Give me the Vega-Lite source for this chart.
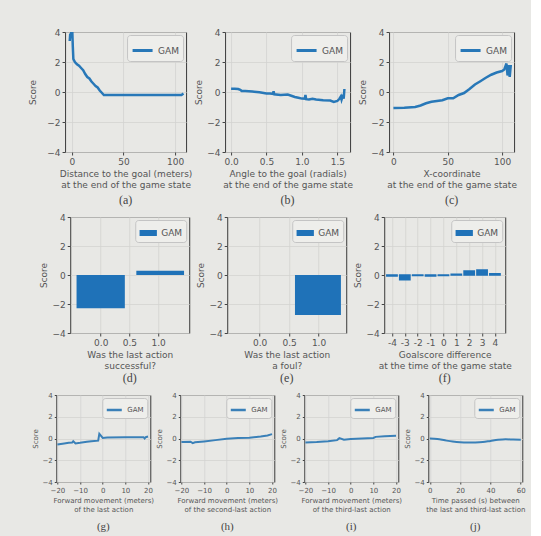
{
"$schema": "https://vega.github.io/schema/vega-lite/v6.json",
"padding": {"left": 15, "top": 27, "right": 5, "bottom": 5},
"background": "#e8e8e5",
"center": true,
"spacing": 5,
"resolve": {"scale": {"color": "independent"}, "legend": {"color": "independent"}},
"config": {
 "font": "DejaVu Sans",
 "view": {"stroke": "#3a3a3a", "strokeWidth": 1},
 "axis": {"grid": true, "gridColor": "#d3d3d0", "gridWidth": 0.8, "domain": false, "tickColor": "#444", "tickSize": 3, "labelColor": "#555", "titleColor": "#555", "labelFontSize": 9, "titleFontSize": 9, "titleFontWeight": "normal", "labelPadding": 2, "titlePadding": 3, "titleLineHeight": 11},
 "legend": {"title": null, "orient": "top-right", "offset": 3, "labelFontSize": 9, "labelColor": "#555", "fillColor": "#eeeeeb", "strokeColor": "#c4c4c4", "cornerRadius": 3, "padding": 4},
 "title": {"font": "Liberation Serif", "fontSize": 12, "fontWeight": "normal", "color": "#444", "orient": "bottom", "offset": 6}
},
"vconcat": [
 {
  "hconcat": [
   {
    "width": 121, "height": 120,
    "title": "(a)",
    "data": {"values": [
     {"x": -2, "y": 3.4}, {"x": -1.5, "y": 3.9}, {"x": -1, "y": 3.6}, {"x": -0.5, "y": 4.0}, {"x": 0, "y": 3.8}, {"x": 0.5, "y": 4.0}, {"x": 1, "y": 3.0}, {"x": 1.5, "y": 2.2}, {"x": 3, "y": 2.0}, {"x": 5, "y": 1.85}, {"x": 7, "y": 1.75}, {"x": 9, "y": 1.6}, {"x": 11, "y": 1.45}, {"x": 13, "y": 1.2}, {"x": 15, "y": 1.0}, {"x": 17, "y": 0.9}, {"x": 19, "y": 0.7}, {"x": 21, "y": 0.55}, {"x": 23, "y": 0.4}, {"x": 25, "y": 0.3}, {"x": 27, "y": 0.1}, {"x": 29, "y": -0.05}, {"x": 31, "y": -0.2}, {"x": 40, "y": -0.2}, {"x": 60, "y": -0.2}, {"x": 80, "y": -0.2}, {"x": 100, "y": -0.2}, {"x": 106, "y": -0.2}, {"x": 108, "y": -0.1}
    ]},
    "mark": {"type": "line", "clip": true, "strokeWidth": 2.5},
    "encoding": {
     "x": {"field": "x", "type": "quantitative", "scale": {"domain": [-6.5, 110.5], "nice": false, "zero": false}, "axis": {"values": [0, 50, 100], "title": ["Distance to the goal (meters)", "at the end of the game state"]}},
     "y": {"field": "y", "type": "quantitative", "scale": {"domain": [-4, 4], "nice": false}, "axis": {"values": [-4, -2, 0, 2, 4], "title": ["", "Score"], "titleLineHeight": 13, "titlePadding": 9}},
     "color": {"datum": "GAM", "type": "nominal", "scale": {"range": ["#2878b8"]}, "legend": {"symbolType": "stroke", "symbolSize": 400, "symbolStrokeWidth": 3}}
    }
   },
   {
    "width": 125, "height": 120,
    "title": "(b)",
    "data": {"values": [
     {"x": 0, "y": 0.22}, {"x": 0.05, "y": 0.22}, {"x": 0.1, "y": 0.2}, {"x": 0.13, "y": 0.15}, {"x": 0.15, "y": 0.07}, {"x": 0.2, "y": 0.06}, {"x": 0.3, "y": 0.03}, {"x": 0.4, "y": -0.02}, {"x": 0.5, "y": -0.1}, {"x": 0.55, "y": -0.1}, {"x": 0.59, "y": -0.12}, {"x": 0.6, "y": 0.05}, {"x": 0.61, "y": -0.15}, {"x": 0.7, "y": -0.2}, {"x": 0.8, "y": -0.17}, {"x": 0.85, "y": -0.25}, {"x": 0.9, "y": -0.33}, {"x": 0.95, "y": -0.38}, {"x": 1.0, "y": -0.44}, {"x": 1.04, "y": -0.45}, {"x": 1.05, "y": -0.2}, {"x": 1.06, "y": -0.48}, {"x": 1.1, "y": -0.5}, {"x": 1.15, "y": -0.45}, {"x": 1.2, "y": -0.5}, {"x": 1.3, "y": -0.55}, {"x": 1.4, "y": -0.57}, {"x": 1.45, "y": -0.66}, {"x": 1.5, "y": -0.6}, {"x": 1.53, "y": -0.45}, {"x": 1.55, "y": -0.3}, {"x": 1.56, "y": -0.5}, {"x": 1.58, "y": -0.2}, {"x": 1.59, "y": -0.45}, {"x": 1.6, "y": 0.2}
    ]},
    "mark": {"type": "line", "clip": true, "strokeWidth": 2.5},
    "encoding": {
     "x": {"field": "x", "type": "quantitative", "scale": {"domain": [-0.085, 1.68], "nice": false, "zero": false}, "axis": {"values": [0, 0.5, 1, 1.5], "format": ".1f", "title": ["Angle to the goal (radials)", "at the end of the game state"]}},
     "y": {"field": "y", "type": "quantitative", "scale": {"domain": [-4, 4], "nice": false}, "axis": {"values": [-4, -2, 0, 2, 4], "title": "Score"}},
     "color": {"datum": "GAM", "type": "nominal", "scale": {"range": ["#2878b8"]}, "legend": {"symbolType": "stroke", "symbolSize": 400, "symbolStrokeWidth": 3}}
    }
   },
   {
    "width": 125, "height": 120,
    "title": "(c)",
    "data": {"values": [
     {"x": 0, "y": -1.07}, {"x": 10, "y": -1.05}, {"x": 20, "y": -1.0}, {"x": 25, "y": -0.9}, {"x": 30, "y": -0.75}, {"x": 35, "y": -0.65}, {"x": 40, "y": -0.6}, {"x": 45, "y": -0.55}, {"x": 50, "y": -0.42}, {"x": 55, "y": -0.42}, {"x": 60, "y": -0.2}, {"x": 65, "y": -0.07}, {"x": 70, "y": 0.2}, {"x": 75, "y": 0.5}, {"x": 80, "y": 0.72}, {"x": 85, "y": 0.95}, {"x": 90, "y": 1.15}, {"x": 95, "y": 1.3}, {"x": 100, "y": 1.4}, {"x": 102, "y": 1.5}, {"x": 104, "y": 1.9}, {"x": 105, "y": 1.1}, {"x": 106, "y": 1.8}, {"x": 107, "y": 1.0}, {"x": 108, "y": 1.8}
    ]},
    "mark": {"type": "line", "clip": true, "strokeWidth": 2.5},
    "encoding": {
     "x": {"field": "x", "type": "quantitative", "scale": {"domain": [-4, 111], "nice": false, "zero": false}, "axis": {"values": [0, 50, 100], "title": ["X-coordinate", "at the end of the game state"]}},
     "y": {"field": "y", "type": "quantitative", "scale": {"domain": [-4, 4], "nice": false}, "axis": {"values": [-4, -2, 0, 2, 4], "title": "Score"}},
     "color": {"datum": "GAM", "type": "nominal", "scale": {"range": ["#2878b8"]}, "legend": {"symbolType": "stroke", "symbolSize": 400, "symbolStrokeWidth": 3}}
    }
   }
  ],
  "spacing": 39,
  "bounds": "flush",
  "resolve": {"scale": {"color": "independent"}, "legend": {"color": "independent"}}
 },
 {
  "hconcat": [
   {
    "width": 119, "height": 116,
    "title": {"text": "(d)", "offset": 3},
    "data": {"values": [
     {"x0": -0.42, "x1": 0.42, "y": -2.3},
     {"x0": 0.62, "x1": 1.45, "y": 0.3}
    ]},
    "mark": {"type": "bar", "clip": true},
    "encoding": {
     "x": {"field": "x0", "type": "quantitative", "scale": {"domain": [-0.53, 1.54], "nice": false, "zero": false}, "axis": {"values": [0, 0.5, 1], "format": ".1f", "title": ["Was the last action", "successful?"]}},
     "x2": {"field": "x1"},
     "y": {"field": "y", "type": "quantitative", "scale": {"domain": [-4, 4], "nice": false}, "axis": {"values": [-4, -2, 0, 2, 4], "title": ["", "Score"], "titleLineHeight": 20}},
     "y2": {"datum": 0},
     "color": {"datum": "GAM", "type": "nominal", "scale": {"range": ["#1f72b8"]}, "legend": {"symbolType": "M-1,-0.35H1V0.35H-1Z", "symbolSize": 300, "symbolStrokeWidth": 0}}
    }
   },
   {
    "width": 119, "height": 116,
    "title": {"text": "(e)", "offset": 3},
    "data": {"values": [
     {"x0": 0.6, "x1": 1.38, "y": -2.75}
    ]},
    "mark": {"type": "bar", "clip": true},
    "encoding": {
     "x": {"field": "x0", "type": "quantitative", "scale": {"domain": [-0.55, 1.47], "nice": false, "zero": false}, "axis": {"values": [0, 0.5, 1], "format": ".1f", "title": ["Was the last action", "a foul?"]}},
     "x2": {"field": "x1"},
     "y": {"field": "y", "type": "quantitative", "scale": {"domain": [-4, 4], "nice": false}, "axis": {"values": [-4, -2, 0, 2, 4], "title": "Score"}},
     "y2": {"datum": 0},
     "color": {"datum": "GAM", "type": "nominal", "scale": {"range": ["#1f72b8"]}, "legend": {"symbolType": "M-1,-0.35H1V0.35H-1Z", "symbolSize": 300, "symbolStrokeWidth": 0}}
    }
   },
   {
    "width": 121, "height": 116,
    "title": {"text": "(f)", "offset": 3},
    "data": {"values": [
     {"x0": -4.4, "x1": -3.6, "y": -0.07},
     {"x0": -3.4, "x1": -2.6, "y": -0.32},
     {"x0": -2.4, "x1": -1.6, "y": -0.03},
     {"x0": -1.4, "x1": -0.6, "y": -0.07},
     {"x0": -0.4, "x1": 0.4, "y": -0.03},
     {"x0": 0.6, "x1": 1.4, "y": 0.06},
     {"x0": 1.6, "x1": 2.4, "y": 0.28},
     {"x0": 2.6, "x1": 3.4, "y": 0.35},
     {"x0": 3.6, "x1": 4.4, "y": 0.08}
    ]},
    "mark": {"type": "bar", "clip": true, "strokeWidth": 1.5},
    "encoding": {
     "x": {"field": "x0", "type": "quantitative", "scale": {"domain": [-4.6, 4.8], "nice": false, "zero": false}, "axis": {"values": [-4, -3, -2, -1, 0, 1, 2, 3, 4], "labelExpr": "replace(datum.label, '−', '-')", "title": ["Goalscore difference", "at the time of the game state"]}},
     "x2": {"field": "x1"},
     "y": {"field": "y", "type": "quantitative", "scale": {"domain": [-4, 4], "nice": false}, "axis": {"values": [-4, -2, 0, 2, 4], "title": "Score"}},
     "y2": {"datum": 0},
     "color": {"datum": "GAM", "type": "nominal", "scale": {"range": ["#1f72b8"]}, "legend": {"symbolType": "M-1,-0.35H1V0.35H-1Z", "symbolSize": 300, "symbolStrokeWidth": 0}},
     "stroke": {"value": "#1f72b8"}
    }
   }
  ],
  "spacing": 38,
  "bounds": "flush",
  "resolve": {"scale": {"color": "independent"}, "legend": {"color": "independent"}}
 },
 {
  "hconcat": [
   {
    "width": 94, "height": 87,
    "title": {"text": "(g)", "fontSize": 11, "offset": 9},
    "data": {"values": [
     {"x": -20, "y": -0.55}, {"x": -17, "y": -0.45}, {"x": -15, "y": -0.4}, {"x": -13.5, "y": -0.38}, {"x": -13, "y": -0.25}, {"x": -12, "y": -0.45}, {"x": -10, "y": -0.4}, {"x": -7, "y": -0.3}, {"x": -5, "y": -0.25}, {"x": -2, "y": -0.2}, {"x": -1.5, "y": 0.43}, {"x": -1, "y": 0.3}, {"x": 0, "y": 0.05}, {"x": 2, "y": 0.1}, {"x": 10, "y": 0.12}, {"x": 18, "y": 0.12}, {"x": 18.5, "y": 0.0}, {"x": 19, "y": 0.12}, {"x": 20, "y": 0.18}
    ]},
    "mark": {"type": "line", "clip": true, "strokeWidth": 2},
    "encoding": {
     "x": {"field": "x", "type": "quantitative", "scale": {"domain": [-20.5, 21], "nice": false, "zero": false}, "axis": {"values": [-20, -10, 0, 10, 20], "labelFontSize": 7, "titleFontSize": 7, "titleLineHeight": 9, "tickSize": 2, "title": ["Forward movement (meters)", "of the last action"]}},
     "y": {"field": "y", "type": "quantitative", "scale": {"domain": [-4, 4], "nice": false}, "axis": {"values": [-4, -2, 0, 2, 4], "labelFontSize": 7, "titleFontSize": 7, "tickSize": 2, "title": "Score"}},
     "color": {"datum": "GAM", "type": "nominal", "scale": {"range": ["#3a80b8"]}, "legend": {"symbolType": "stroke", "symbolSize": 225, "symbolStrokeWidth": 2.5, "labelFontSize": 7, "padding": 3, "offset": 3}}
    }
   },
   {
    "width": 94, "height": 87,
    "title": {"text": "(h)", "fontSize": 11, "offset": 9},
    "data": {"values": [
     {"x": -20, "y": -0.33}, {"x": -16, "y": -0.3}, {"x": -15, "y": -0.43}, {"x": -14, "y": -0.35}, {"x": -10, "y": -0.27}, {"x": -5, "y": -0.15}, {"x": 0, "y": -0.03}, {"x": 5, "y": 0.05}, {"x": 10, "y": 0.08}, {"x": 15, "y": 0.18}, {"x": 18, "y": 0.28}, {"x": 20, "y": 0.4}
    ]},
    "mark": {"type": "line", "clip": true, "strokeWidth": 2},
    "encoding": {
     "x": {"field": "x", "type": "quantitative", "scale": {"domain": [-20.5, 21], "nice": false, "zero": false}, "axis": {"values": [-20, -10, 0, 10, 20], "labelFontSize": 7, "titleFontSize": 7, "titleLineHeight": 9, "tickSize": 2, "title": ["Forward movement (meters)", "of the second-last action"]}},
     "y": {"field": "y", "type": "quantitative", "scale": {"domain": [-4, 4], "nice": false}, "axis": {"values": [-4, -2, 0, 2, 4], "labelFontSize": 7, "titleFontSize": 7, "tickSize": 2, "title": "Score"}},
     "color": {"datum": "GAM", "type": "nominal", "scale": {"range": ["#3a80b8"]}, "legend": {"symbolType": "stroke", "symbolSize": 225, "symbolStrokeWidth": 2.5, "labelFontSize": 7, "padding": 3, "offset": 3}}
    }
   },
   {
    "width": 94, "height": 87,
    "title": {"text": "(i)", "fontSize": 11, "offset": 9},
    "data": {"values": [
     {"x": -20, "y": -0.37}, {"x": -15, "y": -0.33}, {"x": -10, "y": -0.25}, {"x": -6, "y": -0.15}, {"x": -5, "y": 0.03}, {"x": -3, "y": -0.12}, {"x": 0, "y": -0.05}, {"x": 5, "y": 0.0}, {"x": 10, "y": 0.05}, {"x": 11, "y": 0.15}, {"x": 15, "y": 0.2}, {"x": 20, "y": 0.25}
    ]},
    "mark": {"type": "line", "clip": true, "strokeWidth": 2},
    "encoding": {
     "x": {"field": "x", "type": "quantitative", "scale": {"domain": [-20.5, 21], "nice": false, "zero": false}, "axis": {"values": [-20, -10, 0, 10, 20], "labelFontSize": 7, "titleFontSize": 7, "titleLineHeight": 9, "tickSize": 2, "title": ["Forward movement (meters)", "of the third-last action"]}},
     "y": {"field": "y", "type": "quantitative", "scale": {"domain": [-4, 4], "nice": false}, "axis": {"values": [-4, -2, 0, 2, 4], "labelFontSize": 7, "titleFontSize": 7, "tickSize": 2, "title": "Score"}},
     "color": {"datum": "GAM", "type": "nominal", "scale": {"range": ["#3a80b8"]}, "legend": {"symbolType": "stroke", "symbolSize": 225, "symbolStrokeWidth": 2.5, "labelFontSize": 7, "padding": 3, "offset": 3}}
    }
   },
   {
    "width": 94, "height": 87,
    "title": {"text": "(j)", "fontSize": 11, "offset": 9},
    "data": {"values": [
     {"x": 0, "y": 0.0}, {"x": 5, "y": -0.05}, {"x": 10, "y": -0.17}, {"x": 15, "y": -0.28}, {"x": 20, "y": -0.35}, {"x": 25, "y": -0.37}, {"x": 30, "y": -0.36}, {"x": 35, "y": -0.32}, {"x": 40, "y": -0.22}, {"x": 45, "y": -0.12}, {"x": 50, "y": -0.07}, {"x": 55, "y": -0.1}, {"x": 60, "y": -0.12}
    ]},
    "mark": {"type": "line", "clip": true, "strokeWidth": 2, "interpolate": "monotone"},
    "encoding": {
     "x": {"field": "x", "type": "quantitative", "scale": {"domain": [-1, 61], "nice": false, "zero": false}, "axis": {"values": [0, 20, 40, 60], "labelFontSize": 7, "titleFontSize": 7, "titleLineHeight": 9, "tickSize": 2, "title": ["Time passed (s) between", "the last and third-last action"]}},
     "y": {"field": "y", "type": "quantitative", "scale": {"domain": [-4, 4], "nice": false}, "axis": {"values": [-4, -2, 0, 2, 4], "labelFontSize": 7, "titleFontSize": 7, "tickSize": 2, "title": "Score"}},
     "color": {"datum": "GAM", "type": "nominal", "scale": {"range": ["#3a80b8"]}, "legend": {"symbolType": "stroke", "symbolSize": 225, "symbolStrokeWidth": 2.5, "labelFontSize": 7, "padding": 3, "offset": 3}}
    }
   }
  ],
  "spacing": 30,
  "bounds": "flush",
  "resolve": {"scale": {"color": "independent"}, "legend": {"color": "independent"}}
 }
]
}
